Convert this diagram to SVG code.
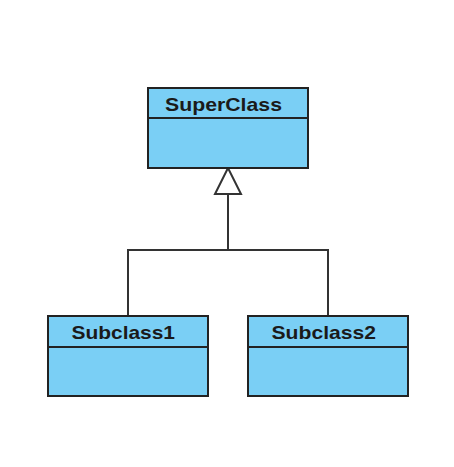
<svg xmlns="http://www.w3.org/2000/svg" width="454" height="467" viewBox="0 0 454 467">
<style>
.box{fill:#7acff5;stroke:#222;stroke-width:2}
.div{stroke:#222;stroke-width:2}
.lbl{font-family:"Liberation Sans",Arial,sans-serif;font-weight:bold;font-size:18.5px;fill:#1a1a1a}
.conn{fill:none;stroke:#333;stroke-width:2}
</style>
<rect width="454" height="467" fill="#fff"/>
<g id="connectors">
<polyline class="conn" points="128,315 128,250 328,250 328,315"/>
<line class="conn" x1="228" y1="250" x2="228" y2="194"/>
<polygon points="228,168 215,194 241,194" fill="#fff" stroke="#333" stroke-width="2"/>
</g>
<g id="SuperClass">
<rect class="box" x="148" y="88" width="160" height="80"/>
<line class="div" x1="148" y1="118" x2="308" y2="118"/>
<text class="lbl" x="165" y="110.5" textLength="117" lengthAdjust="spacingAndGlyphs">SuperClass</text>
</g>
<g id="Subclass1">
<rect class="box" x="48" y="316" width="160" height="80"/>
<line class="div" x1="48" y1="347" x2="208" y2="347"/>
<text class="lbl" x="71.5" y="338.5" textLength="103.5" lengthAdjust="spacingAndGlyphs">Subclass1</text>
</g>
<g id="Subclass2">
<rect class="box" x="248" y="316" width="160" height="80"/>
<line class="div" x1="248" y1="347" x2="408" y2="347"/>
<text class="lbl" x="271.5" y="338.5" textLength="104.5" lengthAdjust="spacingAndGlyphs">Subclass2</text>
</g>
</svg>
